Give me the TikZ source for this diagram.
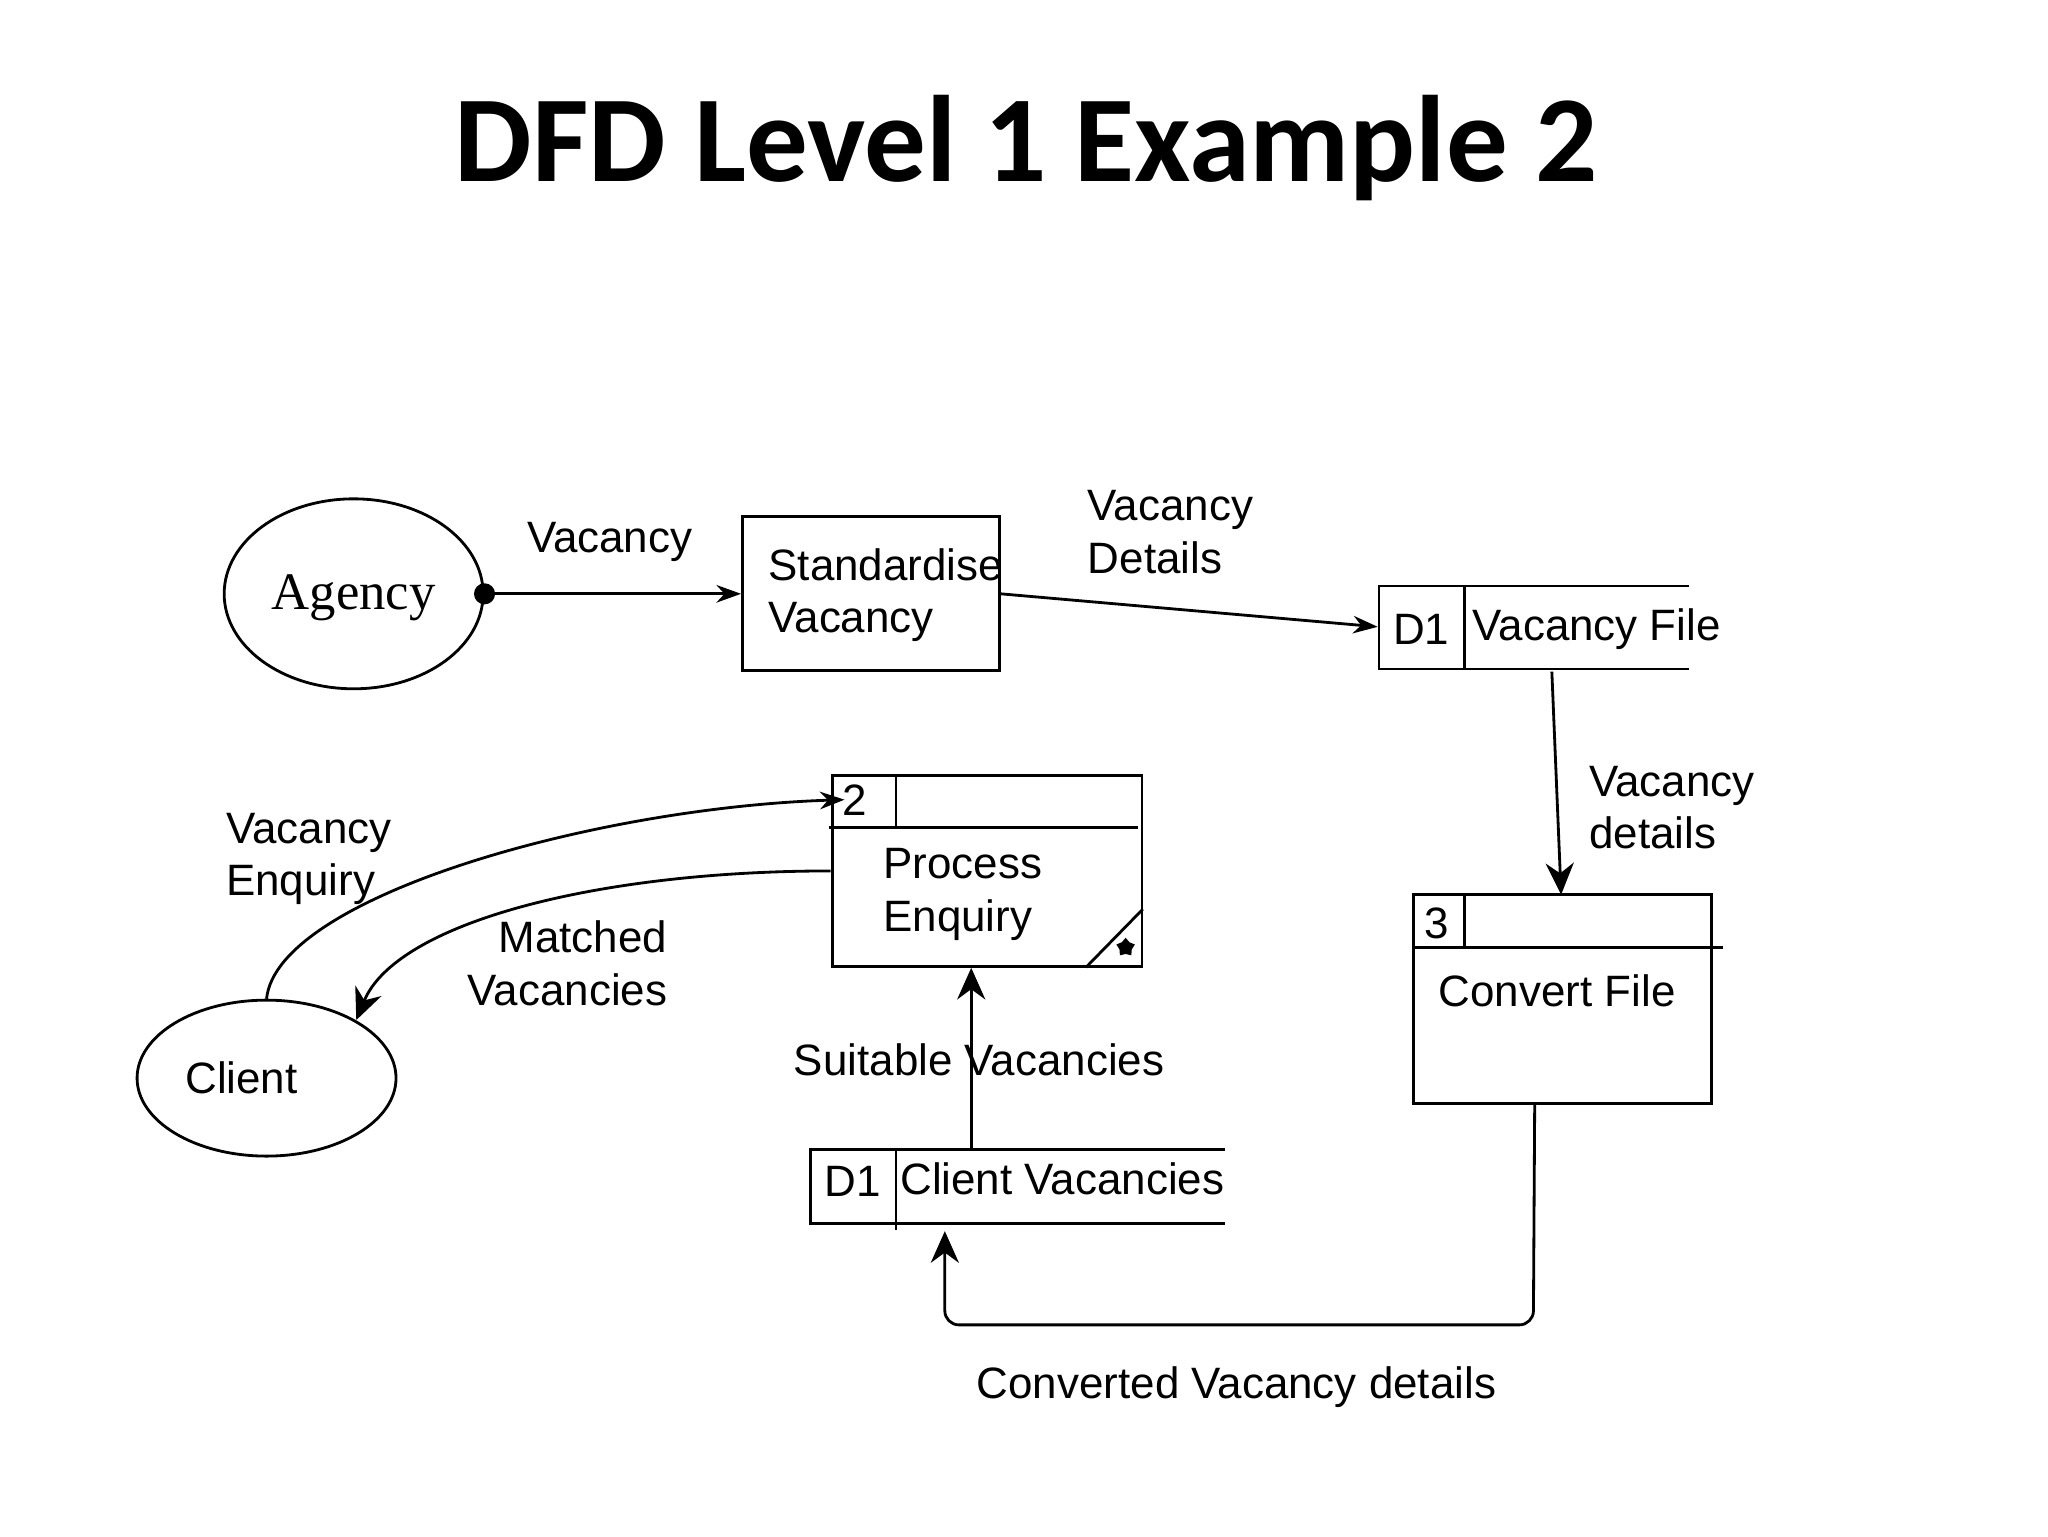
\documentclass[tikz,border=0pt]{standalone}
\usepackage{fontspec}
\setmainfont{Liberation Sans}
\newfontfamily\titlefont{Carlito}
\newfontfamily\serifag{Liberation Serif}
\usetikzlibrary{arrows.meta,positioning,shapes.geometric}

\begin{document}
\begin{tikzpicture}[x=0.0132cm,y=-0.0132cm,
  lbl/.style={font=\fontsize{12.5}{15}\selectfont,align=left},
  proc/.style={draw,thick,rectangle,inner sep=0pt},
  ent/.style={draw,thick,ellipse,inner sep=0pt},
  flow/.style={thick,-{Stealth[length=9pt,width=8pt]}},
  sflow/.style={thick,-{Stealth[length=7pt,width=5pt]}}]
  \useasboundingbox (0,0) rectangle (1552,1164);
  % title
  \node[font=\titlefont\bfseries\fontsize{35}{40}\selectfont] (title) at (778,112) {DFD Level 1 Example 2};
  % external entities
  \node[ent,minimum width=196\pgflinewidth*0+2.59cm,minimum height=1.9cm] (agency) at (268,450) {};
  \node[font=\serifag\fontsize{15}{18}\selectfont] at (268,453) {Agency};
  \node[ent,minimum width=2.59cm,minimum height=1.56cm] (client) at (202,817) {};
  \node[lbl] at (183,817) {Client};
  % process 1
  \node[proc,minimum width=2.57cm,minimum height=1.54cm] (std) at (660,450) {};
  \node[lbl,anchor=west] at (573,451) {Standardise\\Vacancy};
  % process 2
  \node[proc,minimum width=3.1cm,minimum height=1.91cm] (enq) at (748,660) {};
  \coordinate (enqtl) at (enq.north west);
  \draw[thick] (628,627) -- (862,627);
  \draw[thick] (679,588) -- (679,627);
  \draw[thick] (823,733) -- (866,689);
  \node[star,fill,inner sep=1.3pt] at (853,718) {};
  \node[lbl] at (648,606) {2};
  \node[lbl,anchor=west] at (660,678) {Process\\Enquiry};
  % process 3
  \node[proc,minimum width=2.98cm,minimum height=2.09cm] (conv) at (1184,757) {};
  \draw[thick] (1071,718) -- (1306,718);
  \draw[thick] (1110,678) -- (1110,718);
  \node[lbl] at (1089,700) {3};
  \node[lbl] at (1180,751) {Convert File};
  % data stores
  \node[inner sep=0pt,minimum width=3.1cm,minimum height=0.83cm] (vfile) at (1162,475) {};
  \draw[thick] (1280,444) -- (1045,444) -- (1045,507) -- (1280,507);
  \draw[thick] (1110,444) -- (1110,507);
  \node[lbl] at (1077,477) {D1};
  \node[lbl] at (1210,477) {Vacancy File};
  \node[inner sep=0pt,minimum width=4.15cm,minimum height=0.74cm] (cvac) at (771,899) {};
  \draw[thick] (928,871) -- (614,871) -- (614,927) -- (928,927);
  \draw[thick] (679,871) -- (679,932);
  \node[lbl] at (646,895) {D1};
  \node[lbl] at (805,893) {Client Vacancies};
  % flows
  \draw[sflow] (agency.east) -- (std.west);
  \fill (agency.east) circle (3pt);
  \node[lbl] at (462,411) {Vacancy};
  \draw[sflow] (std.east) -- (vfile.west);
  \node[lbl,anchor=west] at (815,403) {Vacancy\\Details};
  \draw[flow] (1176,509) -- (1183,678);
  \node[lbl,anchor=west] at (1195,612) {Vacancy\\details};
  \draw[sflow] (client.north) .. controls (210,680) and (450,612) .. (640,606);
  \node[lbl,anchor=west] at (162,651) {Vacancy\\Enquiry};
  \draw[flow] (enq.west |- 0,660) .. controls (450,660) and (300,700) .. (270,773);
  \node[lbl,align=right,anchor=east] at (515,730) {Matched\\Vacancies};
  \draw[flow] (cvac.north -| 736,0) -- (enq.south -| 736,0);
  \node[lbl] at (742,803) {Suitable Vacancies};
  \draw[flow,rounded corners=4pt] (conv.south -| 1163,0) -- (1162,1004) -- (716,1004) -- (716,933);
  \node[lbl] at (937,1051) {Converted Vacancy details};
\end{tikzpicture}
\end{document}
